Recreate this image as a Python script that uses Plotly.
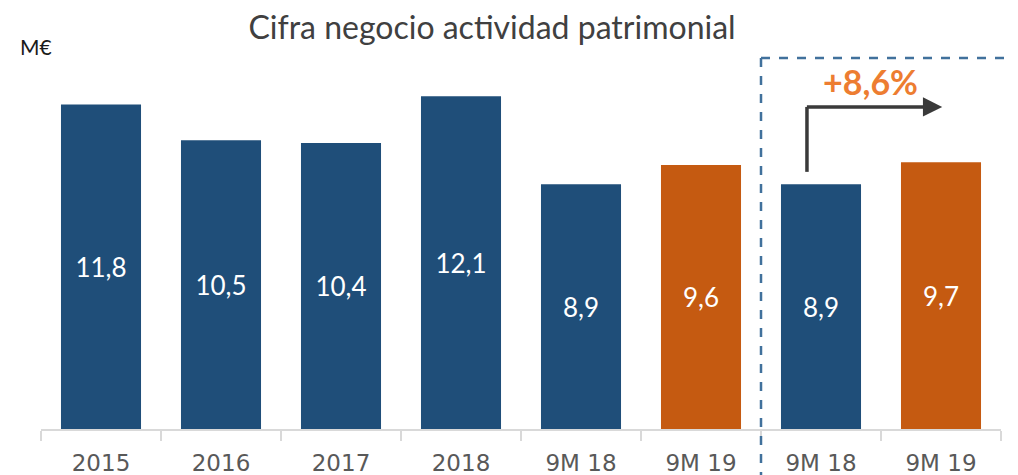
import plotly.graph_objects as go

# data
categories = ["2015", "2016", "2017", "2018", "9M 18", "9M 19", "9M 18", "9M 19"]
values = [11.8, 10.5, 10.4, 12.1, 8.9, 9.6, 8.9, 9.7]
growth_label = "+8,6%"

BLUE = "#1F4E79"
ORANGE = "#C55A11"
colors = [BLUE, BLUE, BLUE, BLUE, BLUE, ORANGE, BLUE, ORANGE]

positions = list(range(len(categories)))

# the page body has an 8px margin, so the figure is sized to the visible area
W, H = 1010, 467

fig = go.Figure()
fig.add_trace(go.Bar(
    x=positions, y=values,
    marker=dict(color=colors, line=dict(width=0)),
    texttemplate="%{y:.1f}",
    textposition="inside", insidetextanchor="middle",
    textfont=dict(color="white", size=26, family="Lato"),
    width=0.667,
    hoverinfo="skip",
))

# L-shaped growth arrow between the two 9M bars
fig.add_shape(type="line", x0=5.883, x1=5.883, y0=9.35, y1=11.71,
              xref="x", yref="y", line=dict(color="#3A3A3A", width=3.5))
fig.add_annotation(x=7.01, y=11.71, ax=5.87, ay=11.71, xref="x", yref="y",
                   axref="x", ayref="y", text="", showarrow=True,
                   arrowhead=2, arrowsize=1.1, arrowwidth=3.5, arrowcolor="#3A3A3A")
fig.add_annotation(x=6.41, y=12.62, xref="x", yref="y", text=growth_label,
                   showarrow=False, font=dict(color="#ED7D31", size=34, family="Lato", weight="bold"))

# dashed frame around the comparable 9M block
fig.add_shape(type="line", x0=5.5, x1=5.5, y0=-0.14, y1=1, xref="x", yref="paper",
              line=dict(color="#41719C", width=2.5, dash="dash"))
fig.add_shape(type="line", x0=(753 - 33) / 960, x1=1.02, y0=1, y1=1, xref="paper", yref="paper",
              line=dict(color="#41719C", width=2.5, dash="dash"))

fig.add_annotation(x=-0.024, y=1.03, xref="paper", yref="paper", text="M€",
                   showarrow=False, xanchor="left", yanchor="middle",
                   font=dict(color="#1A1A1A", size=21, family="Lato"))

fig.update_layout(
    width=W, height=H,
    margin=dict(l=33, r=17, t=50, b=46, autoexpand=False),
    plot_bgcolor="white", paper_bgcolor="white",
    separators=",.",
    showlegend=False,
    title=dict(text="Cifra negocio actividad patrimonial", x=484 / W, xanchor="center",
               y=1 - 20 / H, yanchor="middle", yref="container",
               font=dict(color="#404040", size=32, family="Lato")),
    xaxis=dict(
        range=[-0.5, 7.5], automargin=False,
        tickvals=positions, ticktext=categories,
        ticks="", showgrid=False, zeroline=False,
        showline=True, linecolor="#D9D9D9", linewidth=2,
        tickfont=dict(color="#595959", size=23, family="DejaVu Sans"),
        ticklabelstandoff=12,
        minor=dict(tickmode="array", tickvals=[p - 0.5 for p in positions] + [7.5],
                   ticks="outside", ticklen=10, tickcolor="#D9D9D9", tickwidth=2),
    ),
    yaxis=dict(range=[0, 13.49], visible=False, automargin=False),
)

fig.write_html("out.html")
